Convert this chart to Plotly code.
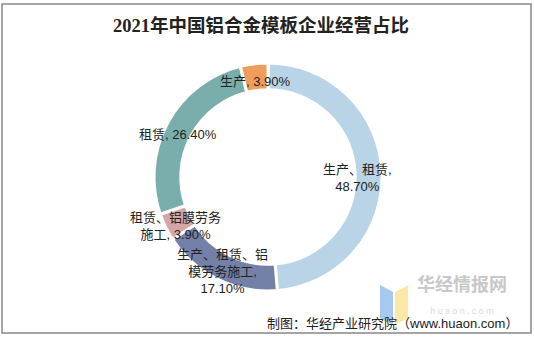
import plotly.graph_objects as go

W, H = 534, 337

categories = ["生产、租赁", "生产、租赁、铝模劳务施工", "租赁、铝膜劳务施工", "租赁", "生产"]
values = [48.7, 17.1, 3.9, 26.4, 3.9]
colors = ["#b8d4e6", "#7480a8", "#d6a5a5", "#7aaead", "#f09c5a"]

label_texts = [
    "生产、租赁,<br>48.70%",
    "生产、租赁、铝<br>模劳务施工,<br>17.10%",
    "租赁、铝膜劳务<br>施工, 3.90%",
    "租赁, 26.40%",
    "生产, 3.90%",
]
# label centres in pixels
label_pos = [(357, 178), (222, 271), (176, 226), (178, 134), (255, 82)]

def px(x):
    return x / W

def py(y):
    return 1 - y / H

cx, cy, r = 268, 177, 114

fig = go.Figure(go.Pie(
    labels=categories,
    values=values,
    sort=False,
    direction="clockwise",
    rotation=0,
    hole=0.765,
    marker=dict(colors=colors, line=dict(color="white", width=3)),
    textinfo="none",
    hoverinfo="label+percent",
    showlegend=False,
    domain=dict(x=[px(cx - r), px(cx + r)], y=[py(cy + r), py(cy - r)]),
))

annotations = []
for t, (x, y) in zip(label_texts, label_pos):
    annotations.append(dict(
        text=t, x=px(x), y=py(y), xref="paper", yref="paper",
        xanchor="center", yanchor="middle", showarrow=False, align="center",
        font=dict(family="Liberation Sans, Noto Sans CJK SC", size=13, color="#222222"),
    ))

annotations.append(dict(
    text="<b>2021年中国铝合金模板企业经营占比</b>", x=px(261), y=py(25),
    xref="paper", yref="paper", xanchor="center", yanchor="middle", showarrow=False,
    font=dict(family="Liberation Serif, Noto Sans CJK SC", size=18.5, color="#222222"),
))

annotations.append(dict(
    text="<b>华经情报网</b><br><span style='font-size:9px;color:#dcdcdc'>h u a o n . c o m</span>",
    x=px(462), y=py(293),
    xref="paper", yref="paper", xanchor="center", yanchor="middle", showarrow=False,
    font=dict(family="Noto Sans CJK SC", size=18, color="#c8c8c8"),
))
annotations.append(dict(
    text="制图：华经产业研究院（www.huaon.com）", x=px(520), y=py(323),
    xref="paper", yref="paper", xanchor="right", yanchor="middle", showarrow=False,
    font=dict(family="Liberation Sans, Noto Sans CJK SC", size=13, color="#222222"),
))

shapes = [
    dict(type="rect", xref="paper", yref="paper", x0=px(2), x1=px(531), y0=py(333), y1=py(4),
         line=dict(color="#888888", width=1.5), fillcolor="rgba(0,0,0,0)", layer="below"),
    # watermark logo
    dict(type="path", xref="paper", yref="paper",
         path=f"M {px(380)} {py(285)} L {px(393)} {py(292)} L {px(393)} {py(325)} L {px(380)} {py(318)} Z",
         fillcolor="#a9c8ef", line=dict(width=0), layer="below"),
    dict(type="path", xref="paper", yref="paper",
         path=f"M {px(395)} {py(292)} L {px(408)} {py(285)} L {px(408)} {py(318)} L {px(395)} {py(325)} Z",
         fillcolor="#fbe7a8", line=dict(width=0), layer="below"),
]

fig.update_layout(
    width=W, height=H,
    margin=dict(l=0, r=0, t=0, b=0),
    paper_bgcolor="white", plot_bgcolor="white",
    annotations=annotations, shapes=shapes,
)

fig.write_html("out.html")
